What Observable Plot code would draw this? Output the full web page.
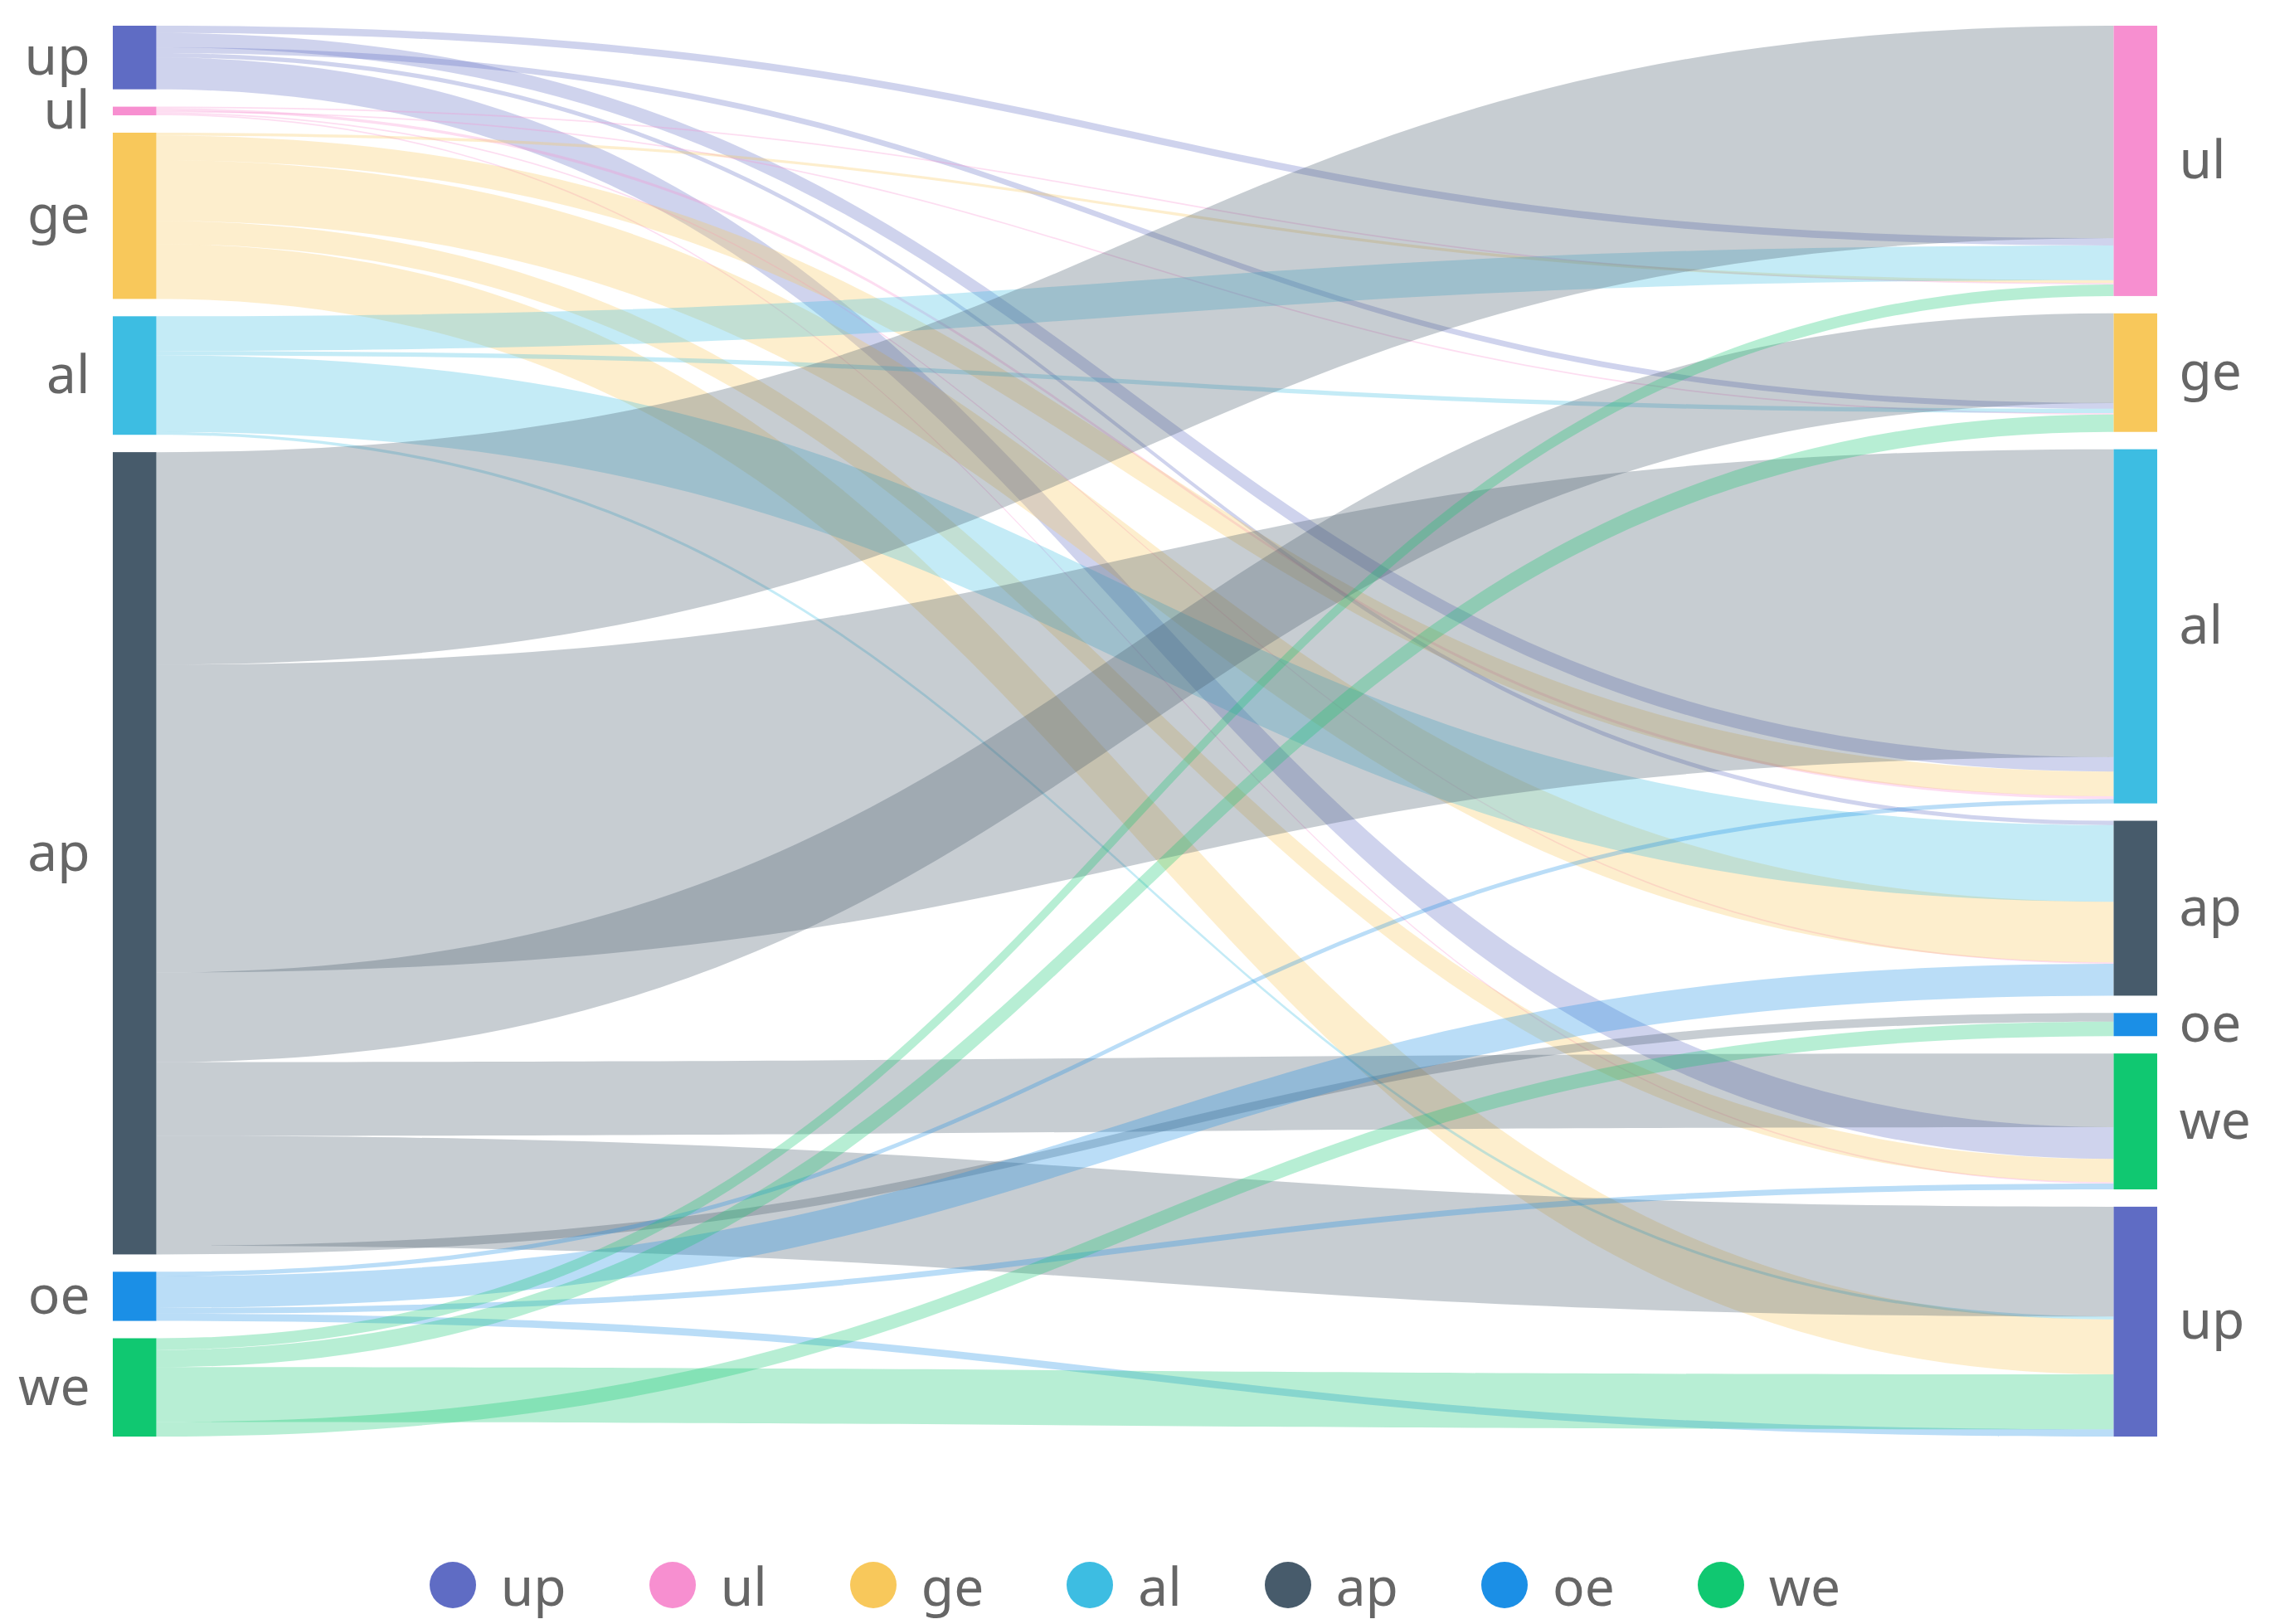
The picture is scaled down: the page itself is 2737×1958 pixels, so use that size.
<!DOCTYPE html>
<html>
<head>
<meta charset="utf-8">
<script src="https://cdn.jsdelivr.net/npm/d3@7"></script>
<script src="https://cdn.jsdelivr.net/npm/@observablehq/plot@0.6"></script>
<style>
  html, body { margin: 0; padding: 0; background: #fff; }
  #chart svg { display: block; }
  #legend { height: 80px; margin-top: 71px; display: flex; align-items: center; justify-content: center; gap: 100px;
            font-family: "Noto Sans", "Open Sans", sans-serif; font-size: 64px; color: #666; }
  .item { display: flex; align-items: center; gap: 30px; }
  .dot { width: 56px; height: 56px; border-radius: 50%; }
</style>
</head>
<body>
<div id="chart"></div>
<div id="legend"></div>
<script>
// ---- data ----
const names = ["up", "ul", "ge", "al", "ap", "oe", "we"];
const colors = ["#5f6cc4", "#f78fd0", "#f8c85b", "#3dbde2", "#475b6b", "#1b8fe6", "#10c871"];
const leftNodes = ["up", "ul", "ge", "al", "ap", "oe", "we"];
const rightNodes = ["ul", "ge", "al", "ap", "oe", "we", "up"];

const linkSource = ["up","up","up","up","up",
                    "ul","ul","ul","ul","ul",
                    "ge","ge","ge","ge","ge",
                    "al","al","al","al",
                    "ap","ap","ap","ap","ap","ap",
                    "oe","oe","oe","oe",
                    "we","we","we","we"];
const linkTarget = ["ul","al","ge","ap","we",
                    "ul","al","ge","ap","we",
                    "ul","al","ap","we","up",
                    "ul","ge","ap","up",
                    "ul","al","ge","we","up","oe",
                    "al","ap","we","up",
                    "ul","ge","up","oe"];
const linkValue  = [5, 10, 4, 3, 22,
                    1, 2, 1, 1, 1,
                    2, 17, 42, 16, 38,
                    24, 3, 53, 2,
                    147, 213, 62, 51, 76, 6,
                    3, 22, 4, 5,
                    8, 12, 38, 10];

// stacking order of links along each node edge
const sourceStackOrder = ["ul", "al", "ge", "ap", "we", "up", "oe"];
const targetStackOrder = ["ap", "up", "al", "ge", "ul", "we", "oe"];

// ---- layout (in value units) ----
const nodeGap = 12;
const nodeW = 0.0213;
const links = linkSource.map((s, i) => ({id: i, source: s, target: linkTarget[i], value: linkValue[i]}));

function stackColumn(order, key) {
  const nodes = [];
  let y = 0;
  for (const n of order) {
    const v = d3.sum(links.filter(l => l[key] === n), l => l.value);
    nodes.push({name: n, y0: y, y1: y + v});
    y += v + nodeGap;
  }
  return nodes;
}
const left = stackColumn(leftNodes, "source").map(d => ({...d, x1: 0, x2: nodeW, side: "left"}));
const right = stackColumn(rightNodes, "target").map(d => ({...d, x1: 1 - nodeW, x2: 1, side: "right"}));
const total = d3.max([...left, ...right], d => d.y1);

for (const n of left) {
  let y = n.y0;
  links.filter(l => l.source === n.name)
    .sort((a, b) => sourceStackOrder.indexOf(a.target) - sourceStackOrder.indexOf(b.target))
    .forEach(l => { l.sy0 = y; y += l.value; l.sy1 = y; });
}
for (const n of right) {
  let y = n.y0;
  links.filter(l => l.target === n.name)
    .sort((a, b) => targetStackOrder.indexOf(a.source) - targetStackOrder.indexOf(b.source))
    .forEach(l => { l.ty0 = y; y += l.value; l.ty1 = y; });
}
const bands = links.flatMap(l => [
  {id: l.id, source: l.source, x: nodeW, y1: l.sy0, y2: l.sy1},
  {id: l.id, source: l.source, x: 1 - nodeW, y1: l.ty0, y2: l.ty1}
]);
const nodes = [...left, ...right];

const chart = Plot.plot({
  width: 2737,
  height: 1800,
  marginTop: 31,
  marginBottom: 68,
  marginLeft: 136,
  marginRight: 136,
  x: {domain: [0, 1], axis: null},
  y: {domain: [0, total], reverse: true, axis: null},
  color: {domain: names, range: colors},
  style: {fontFamily: "'Noto Sans', 'Open Sans', sans-serif", background: "#fff"},
  marks: [
    Plot.areaY(bands, {x: "x", y1: "y1", y2: "y2", z: "id", fill: "source", fillOpacity: 0.3, curve: "bump-x"}),
    Plot.rect(nodes, {x1: "x1", x2: "x2", y1: "y0", y2: "y1", fill: "name"}),
    Plot.text(left, {x: "x1", y: d => (d.y0 + d.y1) / 2, text: "name", textAnchor: "end", dx: -28, fontSize: 64, fill: "#666"}),
    Plot.text(right, {x: "x2", y: d => (d.y0 + d.y1) / 2, text: "name", textAnchor: "start", dx: 26, fontSize: 64, fill: "#666"})
  ]
});
document.getElementById("chart").appendChild(chart);

const legend = document.getElementById("legend");
names.forEach((n, i) => {
  const item = document.createElement("div");
  item.className = "item";
  item.innerHTML = `<span class="dot" style="background:${colors[i]}"></span><span>${n}</span>`;
  legend.appendChild(item);
});
</script>
</body>
</html>
